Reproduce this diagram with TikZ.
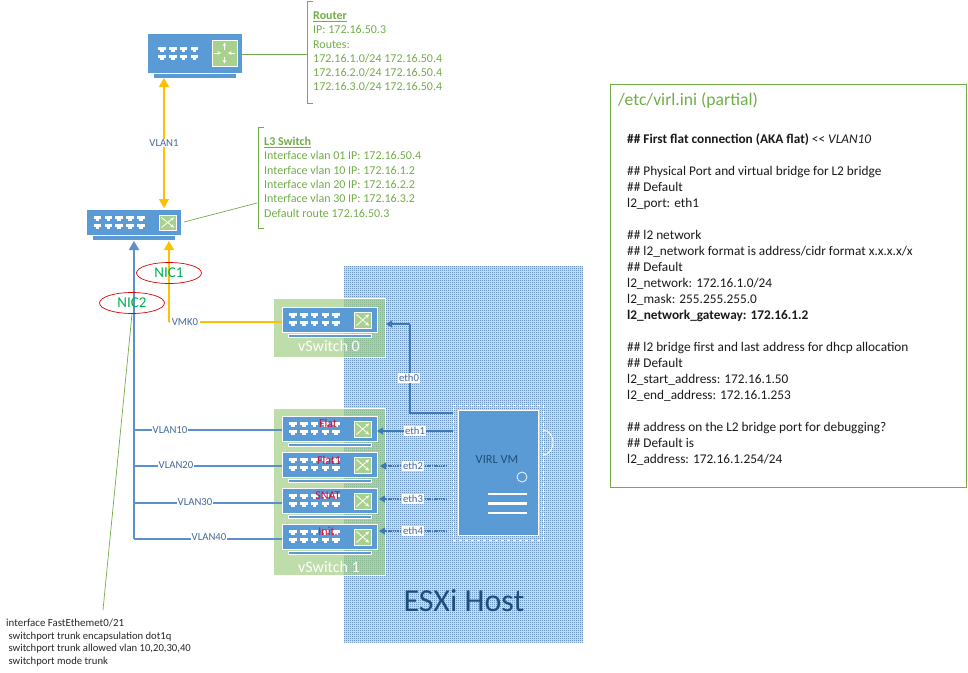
\documentclass[tikz,border=0pt]{standalone}
\usepackage{fontspec}
\setmainfont{Carlito}
\usetikzlibrary{arrows.meta,patterns.meta,shapes.geometric,calc}
\definecolor{swblue}{HTML}{5B9BD5}
\definecolor{linkblue}{HTML}{5A90CC}
\definecolor{ethblue}{HTML}{3D78B8}
\definecolor{darkblue}{HTML}{1F4E79}
\definecolor{labelblue}{HTML}{44689A}
\definecolor{amber}{HTML}{FFC000}
\definecolor{leaf}{HTML}{70AD47}
\definecolor{softgreen}{HTML}{A9D18E}
\definecolor{panelgreen}{HTML}{9CCB7C}
\definecolor{hatchblue}{HTML}{2F6AA5}
\definecolor{hatchtint}{HTML}{DCE8F4}
\definecolor{nicgreen}{HTML}{00B050}
\definecolor{crimsonlabel}{HTML}{C8103C}
\tikzdeclarepattern{
  name=finecheck,
  type=uncolored,
  bottom left={(0pt,0pt)},
  top right={(2pt,2pt)},
  tile size={(2pt,2pt)},
  code={\fill (0pt,0pt) rectangle (1pt,1pt) (1pt,1pt) rectangle (2pt,2pt);}
}
\tikzset{
  swbody/.style={draw=#1,line width=1pt,fill=swblue,anchor=north west,inner sep=0pt,outer sep=0pt},
  greenpanel/.style={fill=panelgreen,fill opacity=.65,draw=white,line width=.6pt,anchor=north west,inner sep=0pt},
  yellowlink/.style={draw=amber,line width=1.6pt},
  bluelink/.style={draw=linkblue,line width=1.6pt},
  thinlink/.style={draw=ethblue,line width=1.1pt},
  tiparrow/.style={-{Triangle[length=9pt,width=10pt]}},
  smalltip/.style={-{Triangle[length=6pt,width=7pt]}},
  twotip/.style={{Triangle[length=9pt,width=10pt]}-{Triangle[length=9pt,width=10pt]}},
  leafline/.style={draw=leaf,line width=.7pt},
  linklabel/.style={fill=white,inner sep=1pt,font=\fontsize{10.7}{12}\selectfont,text=labelblue},
  infotext/.style={anchor=north west,align=left,inner sep=0pt,text=leaf,font=\fontsize{12}{14.3}\selectfont},
  nicring/.style={ellipse,draw=red!85!black,line width=.7pt,minimum width=65pt,minimum height=21pt,inner sep=0pt,text=nicgreen,font=\fontsize{15}{17}\selectfont},
  redlabel/.style={text=crimsonlabel,inner sep=0pt,font=\fontsize{12}{14}\selectfont},
  whitetitle/.style={text=white,inner sep=0pt,font=\fontsize{16}{18}\selectfont},
  glyph/.style={white,line width=.8pt,-{Stealth[length=3.5pt,width=3.5pt]}},
}
% name, left, top, width, height, outline colour, number of ports, port start x, kind
\newcommand{\netdevice}[9]{%
  \node[swbody=#6,minimum width=#4pt,minimum height=#5pt] (#1) at (#2,#3) {};
  \begin{scope}[shift={(#2,#3)}]
    \path[fill=swblue,draw=#6,line width=.6pt] (6,#5+2.5) rectangle (#4-6,#5+5.5);
    \foreach \p in {1,...,#7}{
      \foreach \r in {0,1}{
        \fill[white] ({#8+(\p-1)*10.8-3.8},{#5*.5-6.5+\r*8}) rectangle ++(7.6,3.4);
        \fill[white] ({#8+(\p-1)*10.8-1.8},{#5*.5-3.1+\r*8}) rectangle ++(3.6,1.6);
      }
    }
    \ifnum#9=1
      \ifdim#4pt>94pt \def\bm{6}\else\def\bm{4}\fi
      \path[draw=white,fill=softgreen,line width=.8pt] (#4-\bm-16.5,5) rectangle (#4-\bm,#5-4);
      \draw[glyph] (#4-\bm-14.5,7.5) -- (#4-\bm-2,#5-6.5);
      \draw[glyph] (#4-\bm-14.5,#5-6.5) -- (#4-\bm-2,7.5);
    \else
      \path[draw=white,fill=softgreen,line width=.8pt] (#4-29,6) rectangle (#4-4,#5-6);
      \draw[glyph] (#4-16.5,15.5) -- (#4-16.5,8.5);
      \draw[glyph] (#4-16.5,22.5) -- (#4-16.5,29.5);
      \draw[glyph] (#4-27,19) -- (#4-20,19);
      \draw[glyph] (#4-6,19) -- (#4-13,19);
    \fi
  \end{scope}
}
\begin{document}
\begin{tikzpicture}[x=1pt,y=-1pt]
\useasboundingbox (0,0) rectangle (968,672);
% ESXi host
\fill[hatchtint] (344,266) rectangle (583,642);
\fill[pattern=finecheck,pattern color=hatchblue] (344,266) rectangle (583,642);
\node[text=darkblue,inner sep=0pt,font=\fontsize{32}{36}\selectfont] (esxi) at (464,601) {ESXi Host};
% vSwitch panels
\node[greenpanel,minimum width=112pt,minimum height=59pt] (vsz) at (273,298) {};
\node[greenpanel,minimum width=112pt,minimum height=167pt] (vso) at (273,408) {};
\node[whitetitle] (vszt) at (329,346) {vSwitch 0};
\node[whitetitle] (vsot) at (329,567) {vSwitch 1};
% devices
\netdevice{router}{148}{34}{93}{38}{swblue}{4}{14}{2}
\netdevice{lthree}{87}{210}{93}{24}{swblue}{5}{10.5}{1}
\netdevice{vmk}{282}{307}{95}{25}{white}{5}{11}{1}
\netdevice{flat}{282}{416}{95}{25}{white}{5}{11}{1}
\netdevice{flato}{282}{452}{95}{25}{white}{5}{11}{1}
\netdevice{snat}{282}{488}{95}{25}{white}{5}{11}{1}
\netdevice{init}{282}{524}{95}{25}{white}{5}{11}{1}
% red labels on the bridges
\node[redlabel] (lflat) at (328,423) {Flat};
\node[redlabel] (lflato) at (329,460) {Flat1};
\node[redlabel] (lsnat) at (328,496) {SNAT};
\node[redlabel] (linit) at (328,531) {Init.};
% VM
\node[draw=white,dashed,line width=.9pt,minimum width=90pt,minimum height=135pt,inner sep=0pt,anchor=north west] (vmouter) at (453,405) {};
\node[fill=swblue,draw=white,line width=.5pt,minimum width=80pt,minimum height=125pt,inner sep=0pt,anchor=north west] (vm) at (458,410) {};
\node[inner sep=0pt,text=darkblue,font=\fontsize{12.4}{14}\selectfont] (vmlabel) at (497,460) {VIRL VM};
\node[circle,draw=white,line width=.7pt,minimum size=10pt,inner sep=0pt] (vmdot) at (522,477) {};
\draw[white,line width=2.6pt] (488,494) -- (527,494) (488,503.5) -- (527,503.5) (488,513) -- (527,513);
\draw[white,line width=.8pt] (543,455) arc[start angle=-90,end angle=90,x radius=10,y radius=-12.5];
% links between the VM and the bridges
\coordinate (vmtopleft) at (453,413);
\coordinate (ethbend) at (410,413);
\draw[thinlink] (vmtopleft) -- (ethbend) -- (410,324);
\draw[thinlink,smalltip] (410,324) -- (386,324);
\node[linklabel,fill=white] (ethz) at (409,378) {eth0};
\coordinate (vmone) at (453,431);
\coordinate (vmtwo) at (447,466);
\coordinate (vmthree) at (447,499);
\coordinate (vmfour) at (447,531);
\draw[thinlink,smalltip] (vmone) -- (377,431);
\draw[thinlink,smalltip,dash pattern=on 1.5pt off .8pt] (vmtwo) -- (380,466);
\draw[thinlink,smalltip,dash pattern=on 1.5pt off .8pt] (vmthree) -- (379,499);
\draw[thinlink,smalltip,dash pattern=on 1.5pt off .8pt] (vmfour) -- (379,531);
\node[linklabel] (etho) at (415,431) {eth1};
\node[linklabel] (etht) at (413,466) {eth2};
\node[linklabel] (ethh) at (413,499) {eth3};
\node[linklabel] (ethf) at (413,531) {eth4};
% trunk and VLAN links
\coordinate (trunkend) at (134,539);
\coordinate (trunktip) at (134,241);
\draw[draw=linkblue,line width=2pt,tiparrow] (trunkend) -- (trunktip);
\draw[bluelink] (134,430) -- (flat.west |- 0,430);
\draw[bluelink] (134,466) -- (flato.west |- 0,466);
\draw[bluelink] (134,503) -- (snat.west |- 0,503);
\draw[bluelink] (trunkend) -- (init.west |- 0,539);
\node[linklabel] (vten) at (170,430) {VLAN10};
\node[linklabel] (vtwenty) at (176,465) {VLAN20};
\node[linklabel] (vthirty) at (195,502) {VLAN30};
\node[linklabel] (vforty) at (209,537) {VLAN40};
% yellow links
\coordinate (routerbelow) at (164,78);
\coordinate (lthreeabove) at (164,208);
\draw[yellowlink,twotip] (routerbelow) -- (lthreeabove);
\node[linklabel] (vone) at (164,143) {VLAN1};
\coordinate (vmkup) at (169,241);
\coordinate (vmkbend) at (169,322);
\draw[yellowlink,tiparrow] (vmkbend) -- (vmkup);
\draw[yellowlink] (vmkbend) -- (vmk.west |- vmkbend);
\node[linklabel,inner sep=1.5pt] (vmklabel) at (185,322) {VMK0};
% NIC rings
\node[nicring] (nicone) at (169,273) {NIC1};
\node[nicring] (nictwo) at (132,303) {NIC2};
% router and switch notes
\coordinate (rbr) at (307,54);
\draw[leafline] (router.east |- rbr) -- (rbr);
\draw[leafline] (313,1) -- (307,1) -- (307,103) -- (313,103);
\node[infotext] (routernote) at (313,11.5) {\underline{\textbf{Router}}\\IP: 172.16.50.3\\Routes:\\172.16.1.0/24 172.16.50.4\\172.16.2.0/24 172.16.50.4\\172.16.3.0/24 172.16.50.4};
\coordinate (sbr) at (257,203);
\draw[leafline] (184,222) -- (sbr);
\draw[leafline] (264,127) -- (258,127) -- (258,228) -- (264,228);
\node[infotext] (switchnote) at (264,137) {\underline{\textbf{L3 Switch}}\\Interface vlan 01 IP: 172.16.50.4\\Interface vlan 10 IP: 172.16.1.2\\Interface vlan 20 IP: 172.16.2.2\\Interface vlan 30 IP: 172.16.3.2\\Default route 172.16.50.3};
% trunk note
\coordinate (notetop) at (103,610);
\draw[leafline] (nictwo.south) -- (notetop);
\node[anchor=north west,align=left,inner sep=0pt,font=\fontsize{10.65}{12.8}\selectfont,text=black!85] (trunknote) at (6,618.5) {{\fontsize{10.9}{12.8}\selectfont interface FastEthemet0/21}\\\ switchport trunk encapsulation dot1q\\\ switchport trunk allowed vlan 10,20,30,40\\\ switchport mode trunk};
% ini box
\node[draw=leaf,line width=.8pt,minimum width=356pt,minimum height=403pt,inner sep=0pt,anchor=north west] (inibox) at (610,84) {};
\node[anchor=west,inner sep=0pt,text=leaf,font=\fontsize{17.6}{20}\selectfont] (initi) at (618,100) {/etc/virl.ini (partial)};
\node[anchor=north west,align=left,inner sep=0pt,text=black!90,font=\fontsize{13.3}{16}\selectfont] (initext) at (627,133.5) {\textbf{\#\# First flat connection (AKA flat)} {<}{<} \textit{VLAN10}\\[16pt]
\#\# Physical Port and virtual bridge for L2 bridge\\
\#\# Default\\
l2\_port: eth1\\[16pt]
\#\# l2 network\\
\#\# l2\_network format is address/cidr format x.x.x.x/x\\
\#\# Default\\
l2\_network: 172.16.1.0/24\\
l2\_mask: 255.255.255.0\\
\textbf{l2\_network\_gateway: 172.16.1.2}\\[16pt]
\#\# l2 bridge first and last address for dhcp allocation\\
\#\# Default\\
l2\_start\_address: 172.16.1.50\\
l2\_end\_address: 172.16.1.253\\[16pt]
\#\# address on the L2 bridge port for debugging?\\
\#\# Default is\\
l2\_address: 172.16.1.254/24};
\end{tikzpicture}
\end{document}
